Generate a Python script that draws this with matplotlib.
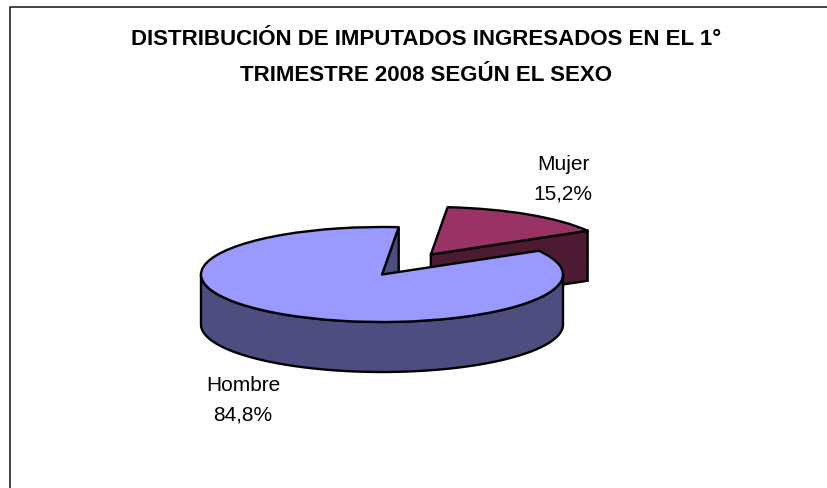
import numpy as np
import matplotlib
matplotlib.use("Agg")
import matplotlib.pyplot as plt
from matplotlib.patches import Polygon

plt.rcParams['font.family'] = ['Liberation Sans', 'DejaVu Sans']

categories = ["Mujer", "Hombre"]
percentages = [15.2, 84.8]
title = "DISTRIBUCIÓN DE IMPUTADOS INGRESADOS EN EL 1°\nTRIMESTRE 2008 SEGÚN EL SEXO"
top_colors = ["#993366", "#9999FF"]
side_colors = ["#4D1A33", "#4D4D80"]
explode = [0.5, 0.0]
start_angle = 84.7

W, H = 827, 489
CX, CY, RX, RY, DEPTH = 382, 275.5, 181, 47.5, 50
LW = 1.7

fig = plt.figure(figsize=(W / 100, H / 100), dpi=100, facecolor="white")
ax = fig.add_axes([0, 0, 1, 1])

wedges, _ = ax.pie(percentages, colors=top_colors, explode=explode, startangle=start_angle,
                   counterclock=False, radius=1, center=(0, 0), frame=False,
                   wedgeprops=dict(edgecolor="black", linewidth=LW, joinstyle="round"))
ax.set_aspect("auto")
ax.set_xlim(-CX / RX, (W - CX) / RX)
ax.set_ylim((CY - H) / RY, CY / RY)
ax.axis("off")
d = DEPTH / RY


def walls(wedge, color, z):
    cx, cy = wedge.center
    a1, a2 = wedge.theta1 % 360, wedge.theta2 % 360
    if a2 <= a1:
        a2 += 360
    t1, t2 = np.radians(a1), np.radians(a2)
    # Cut faces that look towards the viewer
    for t, visible in ((t1, np.cos(t1) > 0), (t2, np.cos(t2) < 0)):
        if visible:
            ex, ey = cx + np.cos(t), cy + np.sin(t)
            face = [(cx, cy), (ex, ey), (ex, ey - d), (cx, cy - d)]
            ax.add_patch(Polygon(face, closed=True, facecolor=color, edgecolor="black", lw=LW, zorder=z))
    # Outer rim: only the front half of the ellipse
    lo, hi = max(a1, 180), min(a2, 360)
    if hi > lo:
        theta = np.radians(np.linspace(lo, hi, 360))
        x, y = cx + np.cos(theta), cy + np.sin(theta)
        rim = np.column_stack([np.r_[x, x[::-1]], np.r_[y, y[::-1] - d]])
        ax.add_patch(Polygon(rim, closed=True, facecolor=color, edgecolor="black", lw=LW, zorder=z))


walls(wedges[0], side_colors[0], 1)
wedges[0].set_zorder(2)
walls(wedges[1], side_colors[1], 3)
wedges[1].set_zorder(4)

# Frame: only the top and left edges of the chart area are visible
fig.add_artist(plt.Line2D([9.5 / W, 9.5 / W, 1], [0, 1 - 8 / H, 1 - 8 / H],
                          color="#222222", lw=1.2, transform=fig.transFigure))

fig.text(426 / W, 1 - 57.5 / H, title, ha="center", va="center", fontsize=16, fontweight="bold",
         color="black", linespacing=1.9)

label_pos = [(563, 179), (243, 400)]
for cat, pct, (px, py) in zip(categories, percentages, label_pos):
    txt = f"{cat}\n{pct:.1f}%".replace(".", ",")
    fig.text(px / W, 1 - py / H, txt, ha="center", va="center", fontsize=15, color="black", linespacing=1.69)

fig.savefig("out.png", dpi=100)
